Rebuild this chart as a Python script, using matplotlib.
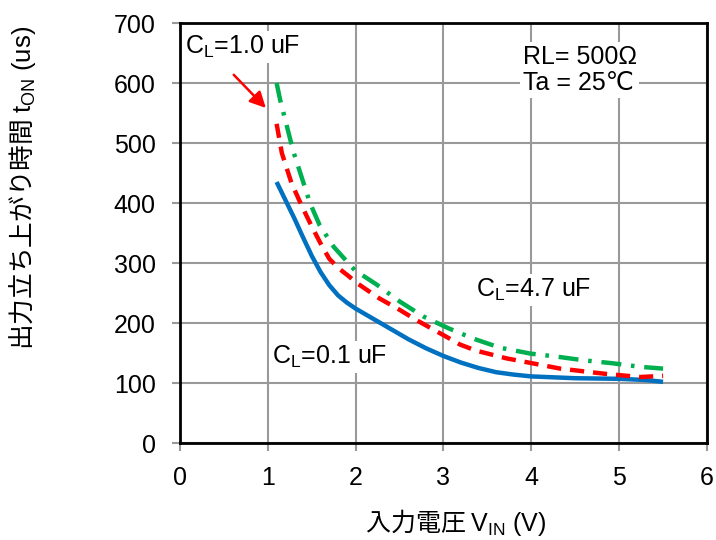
import numpy as np
import matplotlib
matplotlib.use('Agg')
from matplotlib import pyplot as plt

plt.rcParams['font.family'] = ['Liberation Sans', 'DejaVu Sans']
plt.rcParams['mathtext.fontset'] = 'custom'
plt.rcParams['mathtext.rm'] = 'Liberation Sans'
plt.rcParams['mathtext.it'] = 'Liberation Sans:italic'

# C_L = 0.1 uF
vin_01 = [1.1, 1.2, 1.3, 1.4, 1.5, 1.6, 1.7, 1.8, 1.9, 2.0, 2.2, 2.4, 2.6, 2.8,
          3.0, 3.2, 3.4, 3.6, 3.8, 4.0, 4.5, 5.0, 5.3, 5.5]
ton_01 = [435, 405, 375, 343, 312, 285, 263, 246, 234, 224, 207, 190, 173, 158,
          145, 134, 125, 118, 114, 111, 108, 107, 105, 102]
# C_L = 1.0 uF
vin_10 = [1.1, 1.16, 1.27, 1.39, 1.5, 1.61, 1.7, 1.8, 1.93, 2.0, 2.27, 2.5, 2.69,
          3.07, 3.19, 3.37, 3.72, 4.33, 4.86, 5.24, 5.5]
ton_10 = [532, 483, 433, 394, 361, 330, 307, 292, 277, 268, 241, 222, 205,
          174, 164, 154, 141, 124, 115, 110, 112]
# C_L = 4.7 uF
vin_47 = [1.1, 1.14, 1.29, 1.48, 1.59, 1.75, 1.99, 2.24, 2.5, 2.77, 3.06, 3.34,
          3.64, 3.99, 4.29, 4.59, 4.92, 5.24, 5.5]
ton_47 = [600, 572, 486, 400, 363, 327, 288, 264, 236, 211, 191, 174,
          159, 149, 144, 138, 133, 127, 124]

xticks = [0, 1, 2, 3, 4, 5, 6]
yticks = [0, 100, 200, 300, 400, 500, 600, 700]

fig = plt.figure(figsize=(7.16, 5.4), dpi=100)
ax = fig.add_axes([0.2514, 0.1796, 0.736, 0.7778])

ax.plot(vin_01, ton_01, color='#0070C0', lw=3.2, solid_capstyle='butt', zorder=3)
ax.plot(vin_10, ton_10, color='#FF0000', lw=3.2, linestyle=(0, (3.2, 2.0)), zorder=3)
ax.plot(vin_47, ton_47, color='#00B050', lw=3.2, linestyle=(0, (4.5, 2.2, 0.8, 2.2)), zorder=3)

ax.set_xlim(0, 6)
ax.set_ylim(0, 700)
ax.set_xticks(xticks)
ax.set_yticks(yticks)
ax.grid(True, color='#999999', lw=1.5, zorder=0)
ax.set_axisbelow(True)
for s in ax.spines.values():
    s.set_color('black')
    s.set_linewidth(2)
ax.tick_params(axis='both', labelsize=18, color='#999999', width=1.5, length=5.5)
ax.tick_params(axis='y', pad=12)
ax.tick_params(axis='x', pad=11)

box = dict(facecolor='white', edgecolor='none', pad=2)
ax.text(0.06, 660, r'$\mathrm{C_L}$=1.0 uF', fontsize=18, va='center', ha='left', bbox=box, zorder=4)
ax.text(3.375, 255, r'$\mathrm{C_L}$=4.7 uF', fontsize=18, va='center', ha='left', bbox=box, zorder=4)
ax.text(1.05, 143, r'$\mathrm{C_L}$=0.1 uF', fontsize=18, va='center', ha='left', bbox=box, zorder=4)
ax.text(3.9, 622, 'RL= 500Ω\nTa = 25℃', fontsize=18, va='center', ha='left',
        linespacing=1.1, bbox=box, zorder=4)

ax.annotate('', xy=(1.0, 555), xytext=(0.59, 617),
            arrowprops=dict(arrowstyle='-|>', color='#FF0000', lw=1.8, mutation_scale=24))

fig.text(0.031, 0.652, '出力立ち上がり時間 $\\mathrm{t_{ON}\\ (us)}$', rotation=90,
         fontsize=18.5, family=['Noto Sans CJK JP'], ha='center', va='center')
fig.text(0.636, 0.033, '入力電圧 $\\mathrm{V_{IN}\\ (V)}$',
         fontsize=18, family=['Noto Sans CJK JP'], ha='center', va='center')

fig.savefig('out.png', dpi=100)
